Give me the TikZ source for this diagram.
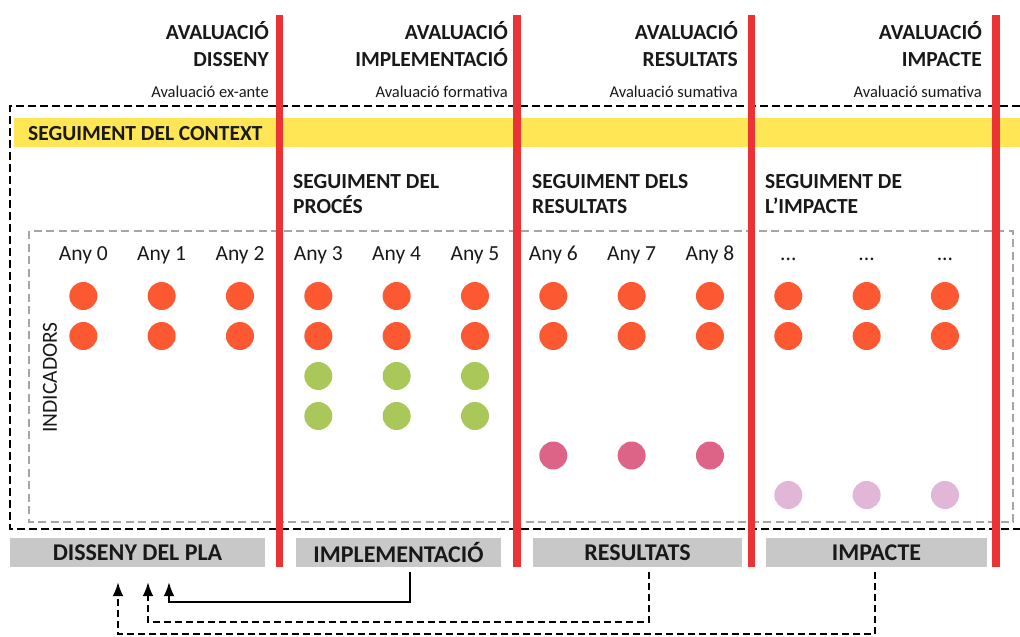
\documentclass[tikz,border=0pt]{standalone}
\usepackage{fontspec}
\setmainfont{Carlito}
\usetikzlibrary{arrows.meta,calc}
\definecolor{txt}{RGB}{25,25,25}
\definecolor{redc}{RGB}{236,50,52}
\definecolor{yel}{RGB}{255,230,85}
\definecolor{orng}{RGB}{252,88,50}
\definecolor{grn}{RGB}{170,200,90}
\definecolor{pnk}{RGB}{222,100,135}
\definecolor{lil}{RGB}{225,182,215}
\definecolor{boxgray}{RGB}{200,200,200}
\definecolor{dgray}{RGB}{165,165,165}
\begin{document}
\begin{tikzpicture}[x=1pt,y=-1pt,
  hdr/.style={anchor=base east, inner sep=0pt, font=\fontsize{21.5}{25}\selectfont\bfseries, text=txt},
  sub/.style={anchor=base east, inner sep=0pt, font=\fontsize{16.5}{19}\selectfont, text=txt},
  seg/.style={anchor=base west, inner sep=0pt, font=\fontsize{21.5}{25}\selectfont\bfseries, text=txt},
  yr/.style={anchor=base, inner sep=0pt, font=\fontsize{21.5}{25}\selectfont, text=txt},
  ind/.style={circle, fill=#1, minimum size=28pt, inner sep=0pt},
  phase/.style={fill=boxgray, minimum height=29pt, inner sep=0pt, text=txt, font=\fontsize{24}{28}\selectfont\bfseries},
  redline/.style={draw=redc, line width=7.5pt},
  conn/.style={draw=black, line width=2pt, -{Latex[length=14pt,width=11pt]}},
  dconn/.style={conn, dash pattern=on 7pt off 4pt},
]
\useasboundingbox (0,0) rectangle (1020,637);
% yellow context band
\fill[yel] (14,118) rectangle (1020,147);
% outer dashed frame
\draw[line width=2.5pt, dash pattern=on 8pt off 4pt] (1020,106) -- (10,106) -- (10,529) -- (1020,529);
% inner gray dashed frame
\draw[dgray, line width=1.6pt, dash pattern=on 8pt off 4.5pt] (29,231) rectangle (1013,522);
% red separators
\foreach \x/\n in {279.5/r1,517/r2,751.5/r3,996/r4}{
  \coordinate (\n t) at (\x,15); \coordinate (\n b) at (\x,567);
  \draw[redline] (\n t) -- (\n b);
}
% headers
\node[hdr] (h1a) at (269,39) {AVALUACIÓ};
\node[hdr] (h1b) at (269,66.5) {DISSENY};
\node[sub] (h1c) at (269,97.5) {Avaluació ex-ante};
\node[hdr] (h2a) at (508,39) {AVALUACIÓ};
\node[hdr] (h2b) at (508,66.5) {IMPLEMENTACIÓ};
\node[sub] (h2c) at (508,97.5) {Avaluació formativa};
\node[hdr] (h3a) at (738,39) {AVALUACIÓ};
\node[hdr] (h3b) at (738,66.5) {RESULTATS};
\node[sub] (h3c) at (738,97.5) {Avaluació sumativa};
\node[hdr] (h4a) at (982,39) {AVALUACIÓ};
\node[hdr] (h4b) at (982,66.5) {IMPACTE};
\node[sub] (h4c) at (982,97.5) {Avaluació sumativa};
% seguiment labels
\node[seg] (ctx) at (28,140) {SEGUIMENT DEL CONTEXT};
\node[seg] (s1a) at (293,188) {SEGUIMENT DEL};
\node[seg] (s1b) at (293,213) {PROCÉS};
\node[seg] (s2a) at (532,188) {SEGUIMENT DELS};
\node[seg] (s2b) at (532,213) {RESULTATS};
\node[seg] (s3a) at (765,188) {SEGUIMENT DE};
\node[seg] (s3b) at (765,213) {L’IMPACTE};
% years
\foreach \i in {0,...,8}{
  \node[yr] (y\i) at ({83.33+78.33*\i},260) {Any \i};
}
\foreach \i in {9,10,11}{
  \node[yr] (y\i) at ({83.33+78.33*\i},260) {...};
}
\node[inner sep=0pt, rotate=90, font=\fontsize{21.5}{25}\selectfont, text=txt] (indl) at (50,377.5) {INDICADORS};
% indicator dots
\foreach \i in {0,...,11}{
  \node[ind=orng] (oa\i) at ({83.33+78.33*\i},296) {};
  \node[ind=orng] (ob\i) at ({83.33+78.33*\i},336) {};
}
\foreach \i in {3,4,5}{
  \node[ind=grn] (ga\i) at ({83.33+78.33*\i},376) {};
  \node[ind=grn] (gb\i) at ({83.33+78.33*\i},416) {};
}
\foreach \i in {6,7,8}{
  \node[ind=pnk] (pk\i) at ({83.33+78.33*\i},455.5) {};
}
\foreach \i in {9,10,11}{
  \node[ind=lil] (lk\i) at ({83.33+78.33*\i},495) {};
}
% phase boxes
\node[phase, minimum width=255pt] (p1) at (137.5,552.5) {DISSENY DEL PLA};
\node[phase, minimum width=205pt] (p2) at (398.5,552.5) {IMPLEMENTACIÓ};
\node[phase, minimum width=209pt] (p3) at (637.5,552.5) {RESULTATS};
\node[phase, minimum width=221pt] (p4) at (876.5,552.5) {IMPACTE};
% feedback connectors
\coordinate (s3) at ($(p2.south)+(11.5,5)$);
\coordinate (e3) at ($(p1.south)+(31.5,15)$);
\coordinate (s2) at ($(p3.south)+(11.5,5)$);
\coordinate (e2) at ($(p1.south)+(10.5,15)$);
\coordinate (s1) at ($(p4.south)+(-1.5,5)$);
\coordinate (e1) at ($(p1.south)+(-19.5,15)$);
\draw[conn] (s3) -- ++(0,30) -| (e3);
\draw[dconn] (s2) -- ++(0,50) -| (e2);
\draw[dconn] (s1) -- ++(0,62) -| (e1);
\end{tikzpicture}
\end{document}
